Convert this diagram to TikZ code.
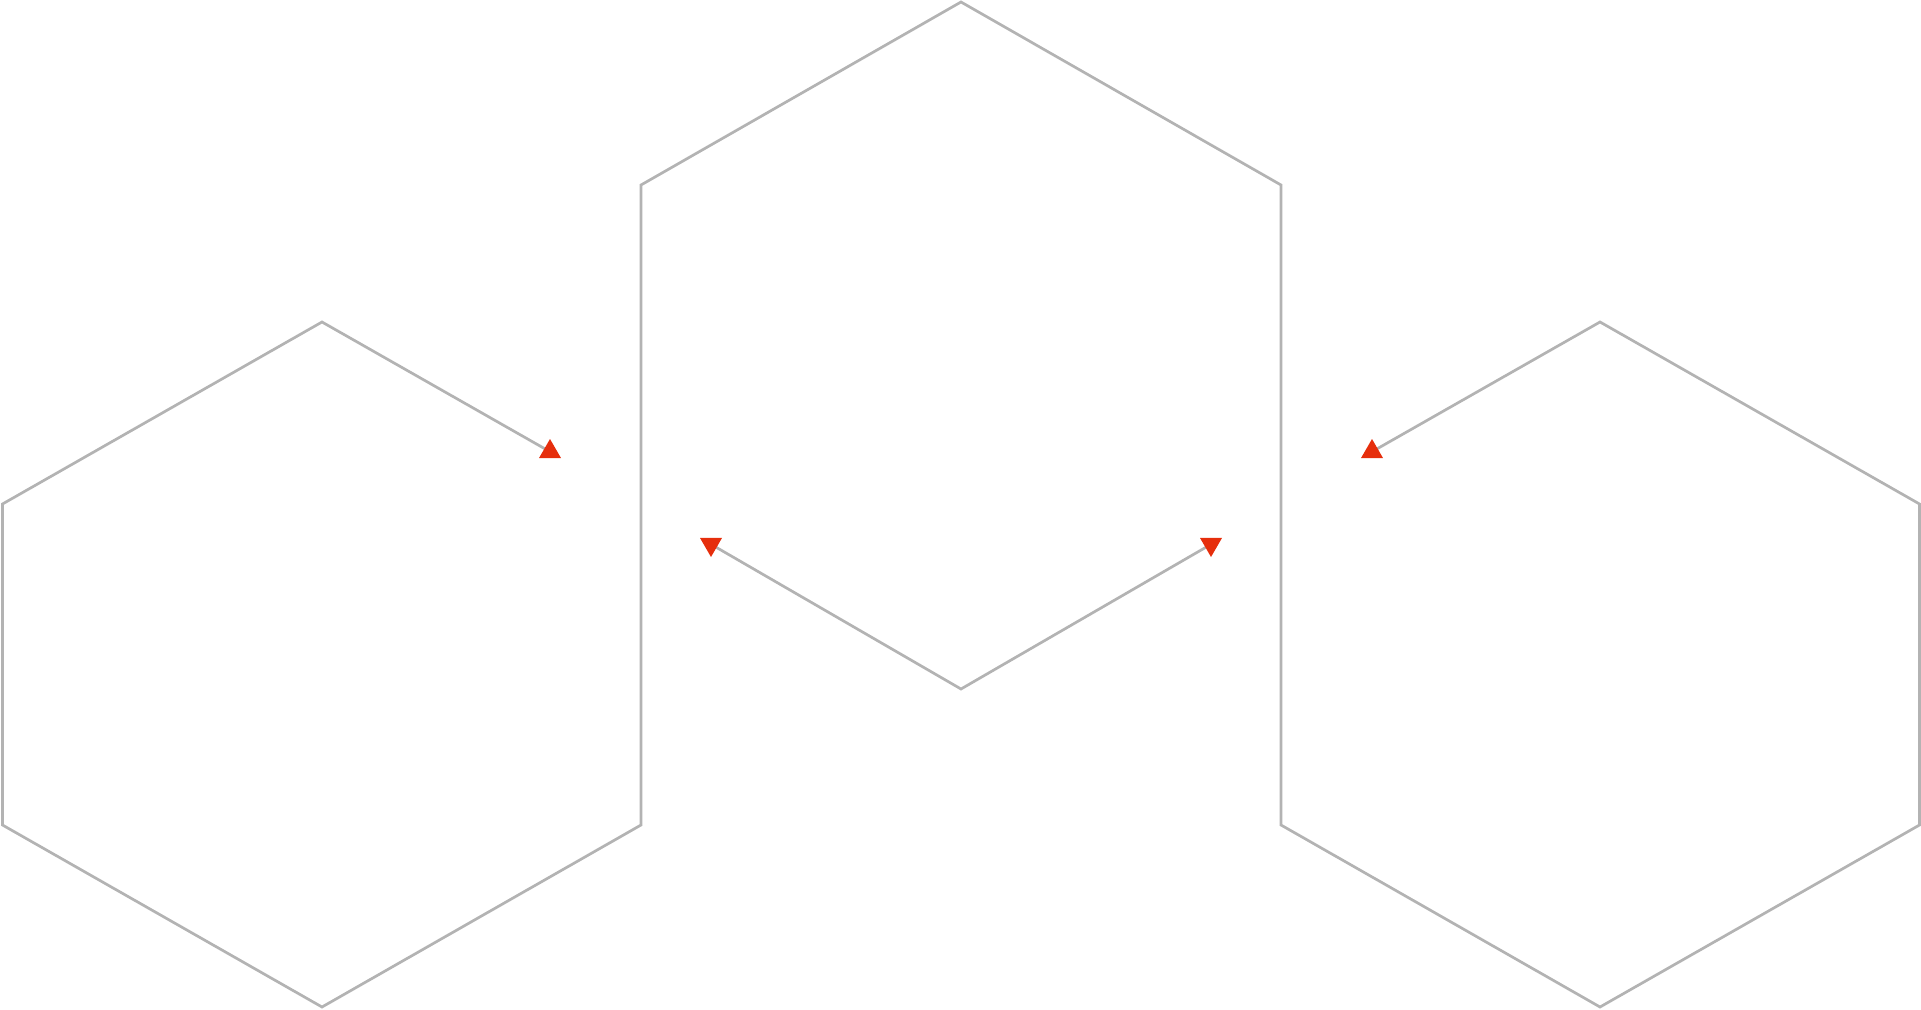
\documentclass[tikz,border=0pt]{standalone}
\usetikzlibrary{shapes.geometric,backgrounds}
\definecolor{hexgray}{HTML}{B3B3B3}
\definecolor{tipred}{HTML}{E62E0C}
\tikzset{
  outline/.style={draw=hexgray, line width=1.35pt, line join=miter},
  tipup/.style={regular polygon, regular polygon sides=3, fill=tipred, draw=none, inner sep=0pt, minimum size=12.7pt},
  tipdown/.style={tipup, shape border rotate=180}
}
\begin{document}
\begin{tikzpicture}[x=0.5pt,y=-0.5pt]
\useasboundingbox (0,0) rectangle (1921,1010);
% corners
\coordinate (L1) at (322,322);
\coordinate (L2) at (2.5,504);
\coordinate (L3) at (2.5,825);
\coordinate (L4) at (322,1007);
\coordinate (C1) at (641,825);
\coordinate (C2) at (641,185);
\coordinate (C3) at (961,2);
\coordinate (C4) at (1281,185);
\coordinate (C5) at (1281,825);
\coordinate (R1) at (1600,1007);
\coordinate (R2) at (1919.5,825);
\coordinate (R3) at (1919.5,504);
\coordinate (R4) at (1600,322);
\coordinate (V) at (961,689);
% arrow tips
\node[tipup] (aL) at (550,451.7) {};
\node[tipup] (aR) at (1372,451.7) {};
\node[tipdown] (aVL) at (711,544.3) {};
\node[tipdown] (aVR) at (1211,544.3) {};
% outlines behind the tips
\begin{pgfonlayer}{background}
\draw[outline] (aL.center) -- (L1) -- (L2) -- (L3) -- (L4) -- (C1) -- (C2) -- (C3) -- (C4) -- (C5) -- (R1) -- (R2) -- (R3) -- (R4) -- (aR.center);
\draw[outline] (aVL.center) -- (V) -- (aVR.center);
\end{pgfonlayer}
\end{tikzpicture}
\end{document}
